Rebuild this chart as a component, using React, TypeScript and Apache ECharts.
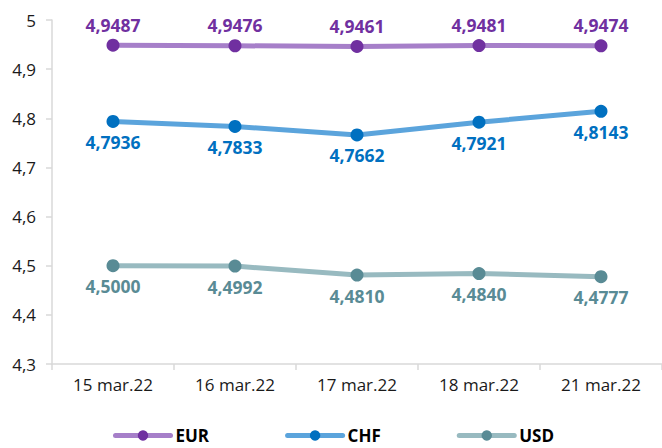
import React, { useEffect, useRef } from "react";
import * as echarts from "echarts";

const categories = ["15 mar.22", "16 mar.22", "17 mar.22", "18 mar.22", "21 mar.22"];
const eur = [4.9487, 4.9476, 4.9461, 4.9481, 4.9474];
const chf = [4.7936, 4.7833, 4.7662, 4.7921, 4.8143];
const usd = [4.5, 4.4992, 4.481, 4.484, 4.4777];

const FONT = "'Open Sans', sans-serif";
const fmt = (v: number) => v.toFixed(4).replace(".", ",");

function mk(name: string, data: number[], lineColor: string, dotColor: string, pos: "top" | "bottom") {
  return {
    name,
    type: "line",
    data,
    symbol: "circle",
    symbolSize: 13,
    lineStyle: { color: lineColor, width: 5 },
    itemStyle: { color: dotColor },
    label: {
      show: true,
      position: pos,
      distance: 5,
      color: dotColor,
      fontFamily: FONT,
      fontWeight: "bold",
      fontSize: 17.5,
      formatter: (p: any) => fmt(p.value),
    },
  };
}

export default function App() {
  const ref = useRef<HTMLDivElement>(null);
  useEffect(() => {
    document.body.style.margin = "0";
    const chart = echarts.init(ref.current!, null, { renderer: "svg" });
    chart.setOption({
      animation: false,
      backgroundColor: "#ffffff",
      grid: { left: 52, right: 0, top: 20, bottom: 84 },
      legend: {
        bottom: -1,
        left: 108,
        itemWidth: 55,
        itemHeight: 13,
        itemGap: 76,
        lineStyle: { width: 5, cap: "round" },
        textStyle: { fontFamily: FONT, fontWeight: "bold", fontSize: 17, color: "#000" },
        data: ["EUR", "CHF", "USD"],
      },
      xAxis: {
        type: "category",
        data: categories,
        boundaryGap: true,
        axisLine: { lineStyle: { color: "#d9d9d9", width: 1.5 } },
        axisTick: { show: true, length: 6, lineStyle: { color: "#d9d9d9", width: 1.5 } },
        axisLabel: { fontFamily: FONT, fontSize: 17, color: "#1a1a1a", margin: 12 },
      },
      yAxis: {
        type: "value",
        min: 4.3,
        max: 5,
        interval: 0.1,
        axisLine: { show: true, lineStyle: { color: "#d9d9d9", width: 1.5 } },
        axisTick: { show: true, length: 6, lineStyle: { color: "#d9d9d9", width: 1.5 } },
        splitLine: { show: false },
        axisLabel: {
          fontFamily: FONT,
          fontSize: 17,
          color: "#1a1a1a",
          margin: 16,
          formatter: (v: number) => {
            const s = (Math.round(v * 10) / 10).toString();
            return s.replace(".", ",");
          },
        },
      },
      series: [
        mk("EUR", eur, "#a67fc9", "#7030a0", "top"),
        mk("CHF", chf, "#5ba4dc", "#0070c0", "bottom"),
        mk("USD", usd, "#98bac0", "#598b95", "bottom"),
      ],
    });
    return () => chart.dispose();
  }, []);
  return <div ref={ref} style={{ width: 662, height: 448 }} />;
}
